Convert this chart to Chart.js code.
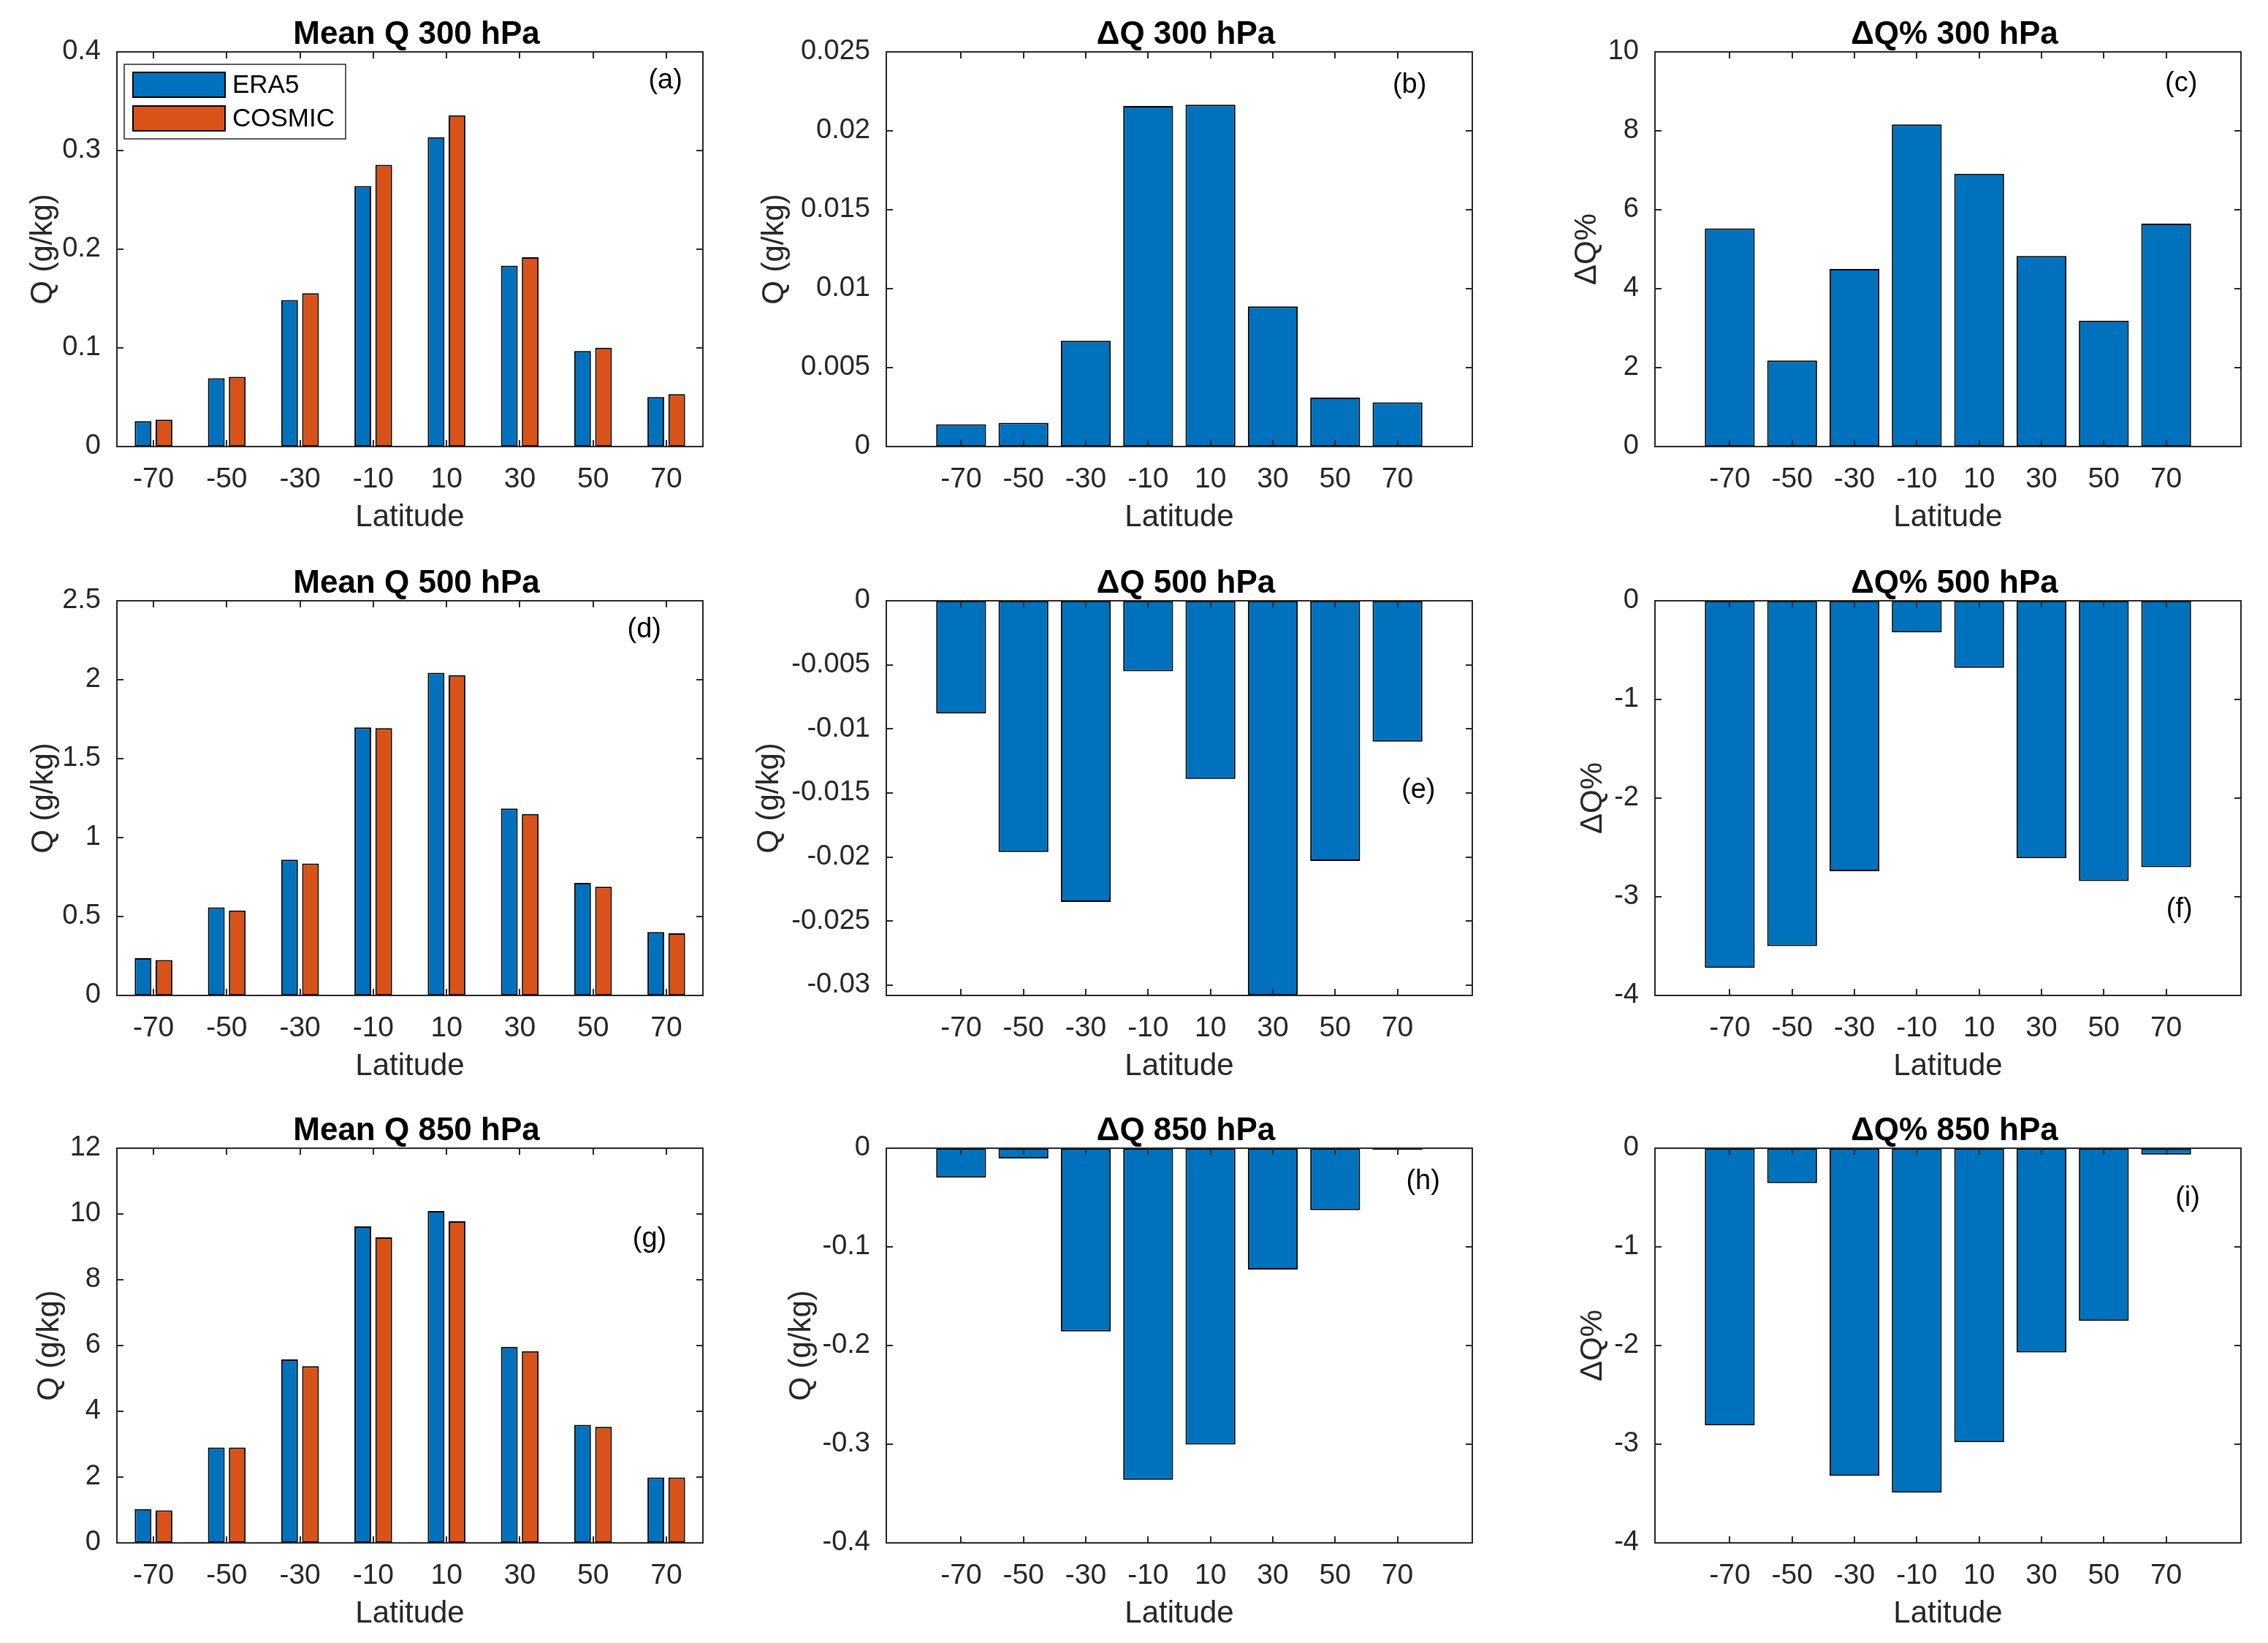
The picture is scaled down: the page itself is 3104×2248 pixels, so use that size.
<!DOCTYPE html>
<html>
<head>
<meta charset="utf-8">
<script src="https://cdn.jsdelivr.net/npm/chart.js@4.4.1/dist/chart.umd.min.js"></script>
<style>
  html, body { margin: 0; padding: 0; background: #fff; }
  #fig { position: relative; width: 3104px; height: 2248px; background: #fff; overflow: hidden; }
  #fig canvas { position: absolute; }
</style>
</head>
<body>
<div id="fig"></div>
<script>
const latitudes = [-70, -50, -30, -10, 10, 30, 50, 70];

// mean Q (g/kg)
const era5_300   = [0.0258, 0.0692, 0.1485, 0.2640, 0.3135, 0.1833, 0.0969, 0.0502];
const cosmic_300 = [0.0273, 0.0707, 0.1553, 0.2856, 0.3358, 0.1919, 0.1001, 0.0531];
const era5_500   = [0.236, 0.558, 0.860, 1.698, 2.044, 1.184, 0.713, 0.402];
const cosmic_500 = [0.224, 0.538, 0.836, 1.693, 2.029, 1.149, 0.689, 0.393];
const era5_850   = [1.03, 2.90, 5.58, 9.62, 10.09, 5.96, 3.59, 1.99];
const cosmic_850 = [0.99, 2.90, 5.37, 9.29, 9.78, 5.83, 3.53, 1.99];

// delta Q (g/kg)
const dq_300 = [0.00141, 0.00150, 0.00670, 0.02157, 0.02166, 0.00888, 0.00310, 0.00280];
const dq_500 = [-0.0088, -0.0196, -0.0235, -0.0055, -0.0139, -0.0308, -0.0203, -0.0110];
const dq_850 = [-0.0298, -0.0103, -0.1857, -0.3362, -0.3004, -0.1229, -0.0627, -0.0014];

// delta Q %
const dqp_300 = [5.53, 2.18, 4.50, 8.16, 6.91, 4.83, 3.19, 5.65];
const dqp_500 = [-3.72, -3.50, -2.74, -0.32, -0.68, -2.61, -2.84, -2.70];
const dqp_850 = [-2.81, -0.354, -3.32, -3.49, -2.98, -2.07, -1.75, -0.064];

// y ticks
const yTicks_a = [0, 0.1, 0.2, 0.3, 0.4];
const yTicks_b = [0, 0.005, 0.01, 0.015, 0.02, 0.025];
const yTicks_c = [0, 2, 4, 6, 8, 10];
const yTicks_d = [0, 0.5, 1, 1.5, 2, 2.5];
const yTicks_e = [-0.03, -0.025, -0.02, -0.015, -0.01, -0.005, 0];
const yTicks_f = [-4, -3, -2, -1, 0];
const yTicks_g = [0, 2, 4, 6, 8, 10, 12];
const yTicks_h = [-0.4, -0.3, -0.2, -0.1, 0];
const yTicks_i = [-4, -3, -2, -1, 0];

const BLUE = '#0072BD', RED = '#D95319', AX = '#262626';
const FONT = '"Liberation Sans", Arial, Helvetica, sans-serif';

// figure layout (px)
const COL_L = [160, 1213, 2265], ROW_T = [71, 822, 1571];
const AW = 802, AH = 540;
const YW = 190, TP = 70, RP = 30, XH = 130, TL = 9;

const era = d => ({ label: 'ERA5', data: d, color: BLUE });
const cos = d => ({ label: 'COSMIC', data: d, color: RED });

const panels = [
  { col: 0, row: 0, title: 'Mean Q 300 hPa', ylab: 'Q (g/kg)', series: [era(era5_300), cos(cosmic_300)], yt: yTicks_a, ymin: 0, ymax: 0.4, xl: [-80, 80], tag: '(a)', tp: [0.936, 0.074], lo: 101, legend: true },
  { col: 1, row: 0, title: 'ΔQ 300 hPa', ylab: 'Q (g/kg)', series: [era(dq_300)], yt: yTicks_b, ymin: 0, ymax: 0.025, xl: [-94, 94], tag: '(b)', tp: [0.893, 0.085], lo: 153 },
  { col: 2, row: 0, title: 'ΔQ% 300 hPa', ylab: 'ΔQ%', series: [era(dqp_300)], yt: yTicks_c, ymin: 0, ymax: 10, xl: [-94, 94], tag: '(c)', tp: [0.898, 0.081], lo: 93 },
  { col: 0, row: 1, title: 'Mean Q 500 hPa', ylab: 'Q (g/kg)', series: [era(era5_500), cos(cosmic_500)], yt: yTicks_d, ymin: 0, ymax: 2.5, xl: [-80, 80], tag: '(d)', tp: [0.900, 0.073], lo: 100 },
  { col: 1, row: 1, title: 'ΔQ 500 hPa', ylab: 'Q (g/kg)', series: [era(dq_500)], yt: yTicks_e, ymin: Math.min(...dq_500), ymax: 0, xl: [-94, 94], tag: '(e)', tp: [0.908, 0.480], lo: 160 },
  { col: 2, row: 1, title: 'ΔQ% 500 hPa', ylab: 'ΔQ%', series: [era(dqp_500)], yt: yTicks_f, ymin: -4, ymax: 0, xl: [-94, 94], tag: '(f)', tp: [0.895, 0.783], lo: 85 },
  { col: 0, row: 2, title: 'Mean Q 850 hPa', ylab: 'Q (g/kg)', series: [era(era5_850), cos(cosmic_850)], yt: yTicks_g, ymin: 0, ymax: 12, xl: [-80, 80], tag: '(g)', tp: [0.909, 0.231], lo: 92 },
  { col: 1, row: 2, title: 'ΔQ 850 hPa', ylab: 'Q (g/kg)', series: [era(dq_850)], yt: yTicks_h, ymin: -0.4, ymax: 0, xl: [-94, 94], tag: '(h)', tp: [0.916, 0.085], lo: 116 },
  { col: 2, row: 2, title: 'ΔQ% 850 hPa', ylab: 'ΔQ%', series: [era(dqp_850)], yt: yTicks_i, ymin: -4, ymax: 0, xl: [-94, 94], tag: '(i)', tp: [0.909, 0.126], lo: 85 }
];

// matlab-style box, inward ticks, title, panel tag and legend
const frame = {
  id: 'frame',
  afterDatasetsDraw(chart, args, o) {
    const { ctx, chartArea: a, scales: { x, y } } = chart;
    ctx.save();
    ctx.strokeStyle = AX;
    ctx.lineWidth = 2;
    ctx.beginPath();
    x.ticks.forEach(t => {
      const px = Math.round(x.getPixelForValue(t.value));
      ctx.moveTo(px, a.bottom); ctx.lineTo(px, a.bottom - TL);
      ctx.moveTo(px, a.top); ctx.lineTo(px, a.top + TL);
    });
    y.ticks.forEach(t => {
      const py = Math.round(y.getPixelForValue(t.value));
      ctx.moveTo(a.left, py); ctx.lineTo(a.left + TL, py);
      ctx.moveTo(a.right, py); ctx.lineTo(a.right - TL, py);
    });
    ctx.stroke();
    ctx.strokeRect(a.left, a.top, a.width, a.height);

    ctx.fillStyle = '#000';
    ctx.font = 'bold 44px ' + FONT;
    ctx.textAlign = 'center';
    ctx.textBaseline = 'alphabetic';
    ctx.fillText(o.title, (a.left + a.right) / 2 + 9, a.top - 11);

    ctx.font = '38px ' + FONT;
    ctx.textBaseline = 'middle';
    ctx.fillText(o.tag, a.left + o.tp[0] * a.width, a.top + o.tp[1] * a.height);

    if (o.legend) {
      const bx = a.left + 10, by = a.top + 17;
      ctx.fillStyle = '#fff';
      ctx.fillRect(bx, by, 303, 102);
      ctx.lineWidth = 1.5;
      ctx.strokeStyle = AX;
      ctx.strokeRect(bx, by, 303, 102);
      ctx.font = '35px ' + FONT;
      ctx.textAlign = 'left';
      chart.data.datasets.forEach((ds, i) => {
        const sy = by + 11 + i * 46;
        ctx.fillStyle = ds.backgroundColor;
        ctx.fillRect(bx + 12, sy, 126, 34);
        ctx.lineWidth = 2;
        ctx.strokeStyle = '#000';
        ctx.strokeRect(bx + 12, sy, 126, 34);
        ctx.fillStyle = '#000';
        ctx.fillText(ds.label, bx + 148, sy + 18);
      });
    }
    ctx.restore();
  }
};
Chart.register(frame);

const fig = document.getElementById('fig');

panels.forEach(p => {
  const cv = document.createElement('canvas');
  cv.width = YW + AW + RP;
  cv.height = TP + AH + XH;
  cv.style.left = (COL_L[p.col] - YW) + 'px';
  cv.style.top = (ROW_T[p.row] - TP) + 'px';
  fig.appendChild(cv);
  const grouped = p.series.length > 1;

  new Chart(cv.getContext('2d'), {
    type: 'bar',
    data: {
      datasets: p.series.map(s => ({
        label: s.label,
        data: latitudes.map((lat, k) => ({ x: lat, y: s.data[k] })),
        backgroundColor: s.color,
        borderColor: '#000',
        borderWidth: 2,
        borderSkipped: false,
        categoryPercentage: grouped ? 0.5714 : 1,
        barPercentage: 0.8
      }))
    },
    options: {
      responsive: false,
      animation: false,
      devicePixelRatio: 1,
      layout: { padding: { top: TP, right: RP, left: 0, bottom: 0 } },
      plugins: {
        legend: { display: false },
        tooltip: { enabled: false },
        frame: { title: p.title, tag: p.tag, tp: p.tp, legend: !!p.legend }
      },
      scales: {
        x: {
          type: 'linear', min: p.xl[0], max: p.xl[1], offset: false,
          grid: { display: false }, border: { display: false },
          afterBuildTicks: s => { s.ticks = latitudes.map(v => ({ value: v })); },
          afterFit: s => { s.height = XH; },
          ticks: { font: { family: FONT, size: 39 }, color: AX, padding: 14, maxRotation: 0, autoSkip: false, callback: v => String(v) },
          title: { display: true, text: 'Latitude', color: AX, font: { family: FONT, size: 42, lineHeight: 1 }, padding: { top: 0, bottom: 12 } }
        },
        y: {
          type: 'linear', min: p.ymin, max: p.ymax,
          grid: { display: false }, border: { display: false },
          afterBuildTicks: s => { s.ticks = p.yt.map(v => ({ value: v })); },
          afterFit: s => { s.width = YW; },
          ticks: { font: { family: FONT, size: 38 }, color: AX, padding: 14, callback: v => String(+v.toFixed(4)) },
          title: { display: true, text: p.ylab, color: AX, font: { family: FONT, size: 42, lineHeight: 1 }, padding: { top: YW - p.lo - 21, bottom: 0 } }
        }
      }
    }
  });
});
</script>
</body>
</html>
